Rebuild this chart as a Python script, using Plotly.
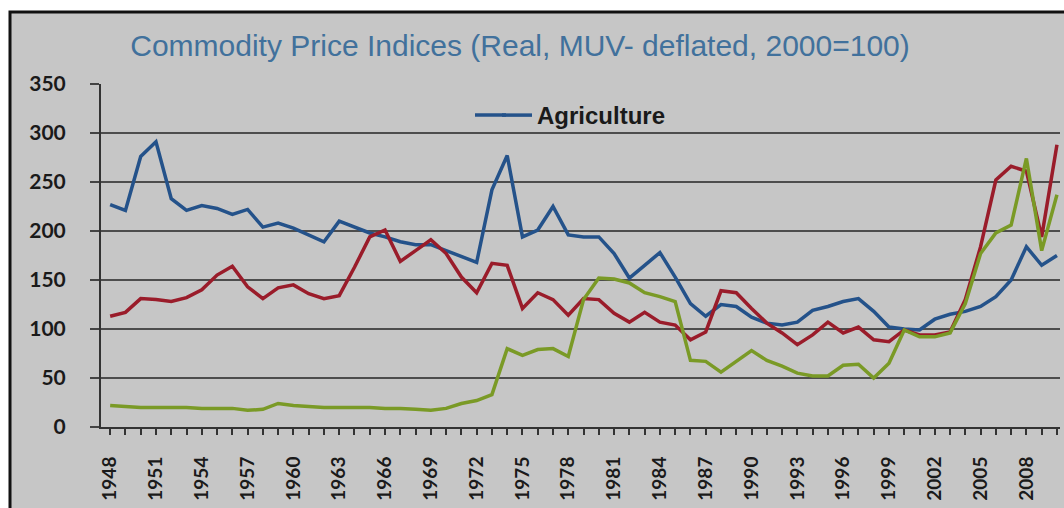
import plotly.graph_objects as go

years = list(range(1948, 2011))

agriculture = [227, 221, 276, 291, 233, 221, 226, 223, 217, 222,
               204, 208, 203, 196, 189, 210, 204, 198, 194, 189,
               186, 186, 180, 174, 168, 242, 277, 194, 201, 225,
               196, 194, 194, 177, 152, 165, 178, 153, 126, 113,
               125, 123, 112, 106, 104, 107, 119, 123, 128, 131,
               118, 102, 100, 99, 110, 115, 118, 123, 133, 150,
               184, 165, 175]

metals = [113, 117, 131, 130, 128, 132, 140, 155, 164, 143,
          131, 142, 145, 136, 131, 134, 163, 194, 201, 169,
          180, 191, 177, 153, 137, 167, 165, 121, 137, 130,
          114, 131, 130, 116, 107, 117, 107, 104, 89, 97,
          139, 137, 121, 106, 96, 84, 94, 107, 96, 102,
          89, 87, 99, 94, 94, 97, 130, 184, 252, 266,
          261, 194, 288]

energy = [22, 21, 20, 20, 20, 20, 19, 19, 19, 17,
          18, 24, 22, 21, 20, 20, 20, 20, 19, 19,
          18, 17, 19, 24, 27, 33, 80, 73, 79, 80,
          72, 130, 152, 151, 147, 137, 133, 128, 68, 67,
          56, 67, 78, 68, 62, 55, 52, 52, 63, 64,
          50, 65, 99, 92, 92, 96, 126, 177, 198, 206,
          274, 180, 237]

label_years = [1948, 1951, 1954, 1957, 1960, 1963, 1966, 1969, 1972, 1975,
               1978, 1981, 1984, 1987, 1990, 1993, 1996, 1999, 2002, 2005, 2008]
y_ticks = [0, 50, 100, 150, 200, 250, 300, 350]

title_text = "Commodity Price Indices (Real, MUV- deflated, 2000=100)"

AGRI_COLOR = "#24528a"

fig = go.Figure()
fig.add_trace(go.Scatter(x=years, y=agriculture, mode="lines", name="Agriculture",
                         line=dict(color=AGRI_COLOR, width=3.5), showlegend=True))
fig.add_trace(go.Scatter(x=years, y=metals, mode="lines", name="Metals",
                         line=dict(color="#9a1c2a", width=3.5), showlegend=False))
fig.add_trace(go.Scatter(x=years, y=energy, mode="lines", name="Energy",
                         line=dict(color="#7a9a26", width=3.5), showlegend=False))

W, H = 1064, 508
L, R, T, B = 101, 1060, 84, 427


def px(X):
    return (X - L) / (R - L)


def py(Y):
    return (B - Y) / (B - T)


fig.add_shape(type="rect", xref="paper", yref="paper",
              x0=px(10), x1=px(1075), y0=py(12), y1=py(520),
              fillcolor="#c6c6c6", line=dict(color="#111111", width=3), layer="below")
# extension of the legend's line sample (the original key line is longer)
fig.add_shape(type="line", xref="paper", yref="paper",
              x0=px(475), x1=px(506), y0=py(115), y1=py(115),
              line=dict(color=AGRI_COLOR, width=3.5))

fig.update_layout(
    width=W, height=H,
    margin=dict(l=L, r=W - R, t=T, b=H - B, pad=0),
    paper_bgcolor="#ffffff",
    plot_bgcolor="rgba(0,0,0,0)",
    title=dict(text=title_text, xref="container", x=520 / W, xanchor="center",
               yref="container", y=1 - 45 / H, yanchor="middle",
               font=dict(family="Liberation Sans", size=30, color="#41719c")),
    legend=dict(x=px(497), y=py(93), xanchor="left", yanchor="top",
                bgcolor="rgba(0,0,0,0)",
                font=dict(family="Liberation Sans", size=24, color="#1a1a1a", weight="bold")),
    xaxis=dict(range=[1947.4, 2010.2], tickvals=label_years, ticktext=[str(v) for v in label_years],
               tickangle=-90, ticks="outside", ticklen=6, tickcolor="#333333", tickwidth=2,
               minor=dict(dtick=1, tick0=1948, ticks="outside", ticklen=6, tickcolor="#333333",
                          tickwidth=2, showgrid=False),
               showgrid=False, showline=True, linecolor="#333333", linewidth=2,
               ticklabelstandoff=14,
               tickfont=dict(family="Lato", size=19, color="#1a1a1a", weight="bold")),
    yaxis=dict(range=[0, 350], tickvals=y_ticks, ticks="outside", ticklen=9, tickcolor="#444444", tickwidth=2,
               showgrid=True, gridcolor="#4d4d4d", gridwidth=2,
               zeroline=True, zerolinecolor="#333333", zerolinewidth=2,
               showline=True, linecolor="#333333", linewidth=2,
               ticklabelstandoff=20,
               tickfont=dict(family="Lato", size=21, color="#1a1a1a", weight="bold")),
)

fig.write_html("out.html", config={"displayModeBar": False},
               post_script="document.body.style.margin='0';document.body.style.overflow='hidden';")
